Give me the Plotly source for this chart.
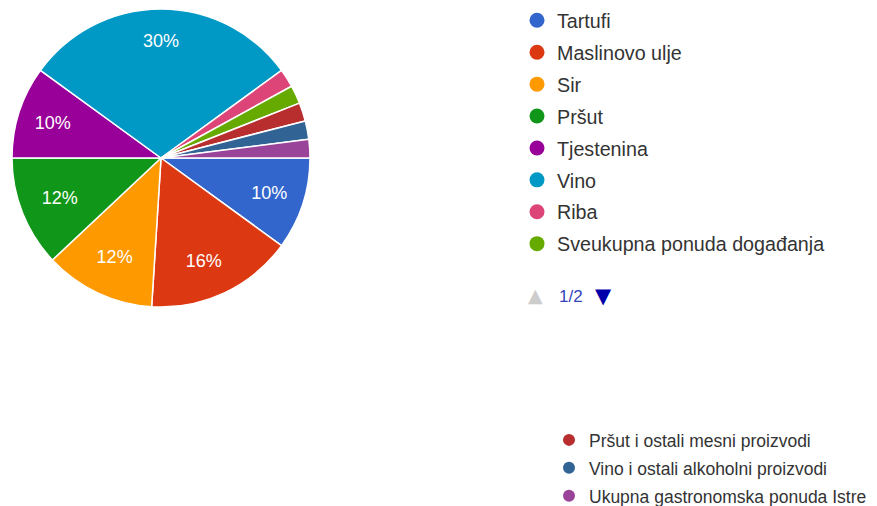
import plotly.graph_objects as go

labels = ["Tartufi", "Maslinovo ulje", "Sir", "Pršut", "Tjestenina", "Vino", "Riba",
          "Sveukupna ponuda događanja", "Pršut i ostali mesni proizvodi",
          "Vino i ostali alkoholni proizvodi", "Ukupna gastronomska ponuda Istre"]
counts = [5, 8, 6, 6, 5, 15, 1, 1, 1, 1, 1]
colors = ["#3366cc", "#dc3912", "#ff9900", "#109618", "#990099", "#0099c6",
          "#dd4477", "#66aa00", "#b82e2e", "#316395", "#994499"]
page1_count = 8
page_label = "1/2"

FONT = "Arial, 'Liberation Sans', sans-serif"
W, H = 877, 506
OFF = 8  # page body margin offset
CX, CY, R = 161 - OFF, 158 - OFF, 149

total = sum(counts)
textpos = ["inside" if c / total >= 0.05 else "none" for c in counts]
# label styling: pad big-slice labels with blank lines so they sit further out (Google Charts look)
pad_below = [3 if c / total > 0.25 else 0 for c in counts]
pad_above = [1 if 0.15 < c / total <= 0.25 else 0 for c in counts]
templates = [(" <br>" * a) + "%{percent}" + ("<br> " * b) for a, b in zip(pad_above, pad_below)]

fig = go.Figure()
fig.add_trace(go.Pie(
    labels=labels, values=counts, sort=False, direction="clockwise", rotation=90,
    marker=dict(colors=colors, line=dict(color="white", width=1.5)),
    texttemplate=templates, textposition=textpos, insidetextorientation="horizontal",
    textfont=dict(color="white", size=18, family=FONT),
    showlegend=False, hoverinfo="label+percent",
    domain=dict(x=[(CX - R) / W, (CX + R) / W],
                y=[(H - CY - R) / H, (H - CY + R) / H]),
))

for i, (lab, col) in enumerate(zip(labels, colors)):
    first = i < page1_count
    fig.add_trace(go.Scatter(
        x=[None], y=[None], mode="markers", name=lab, legendgroup=lab,
        marker=dict(color=col, size=15 if first else 12, symbol="circle"),
        legend="legend" if first else "legend2", showlegend=True, hoverinfo="skip",
    ))

fig.update_layout(
    width=W, height=H, margin=dict(l=0, r=0, t=0, b=0, autoexpand=False),
    paper_bgcolor="white", plot_bgcolor="white",
    xaxis=dict(visible=False), yaxis=dict(visible=False),
    legend=dict(x=(535 - 26) / W, xanchor="left", y=1 + 7 / H, yanchor="top",
                font=dict(size=19.7, color="#333333", family=FONT), maxheight=400,
                tracegroupgap=3.3, bgcolor="rgba(0,0,0,0)", itemsizing="trace"),
    legend2=dict(x=(573 - 32) / W, xanchor="left", y=1 - 414 / H, yanchor="top",
                 font=dict(size=17.5, color="#333333", family=FONT), maxheight=200,
                 tracegroupgap=2.2, bgcolor="rgba(0,0,0,0)", itemsizing="trace"),
    annotations=[
        dict(x=(535 - OFF) / W, y=1 - (295 - OFF) / H, xref="paper", yref="paper",
             xanchor="center", yanchor="middle", text="▲", showarrow=False,
             font=dict(size=19, color="#cccccc", family="DejaVu Sans")),
        dict(x=(557 - OFF) / W, y=1 - (296 - OFF) / H, xref="paper", yref="paper",
             xanchor="left", yanchor="middle", text=page_label, showarrow=False,
             font=dict(size=17, color="#3344bb", family=FONT)),
        dict(x=(603 - OFF) / W, y=1 - (296 - OFF) / H, xref="paper", yref="paper",
             xanchor="center", yanchor="middle", text="▼", showarrow=False,
             font=dict(size=21, color="#0000aa", family="DejaVu Sans")),
    ],
)

fig.write_html("out.html")
